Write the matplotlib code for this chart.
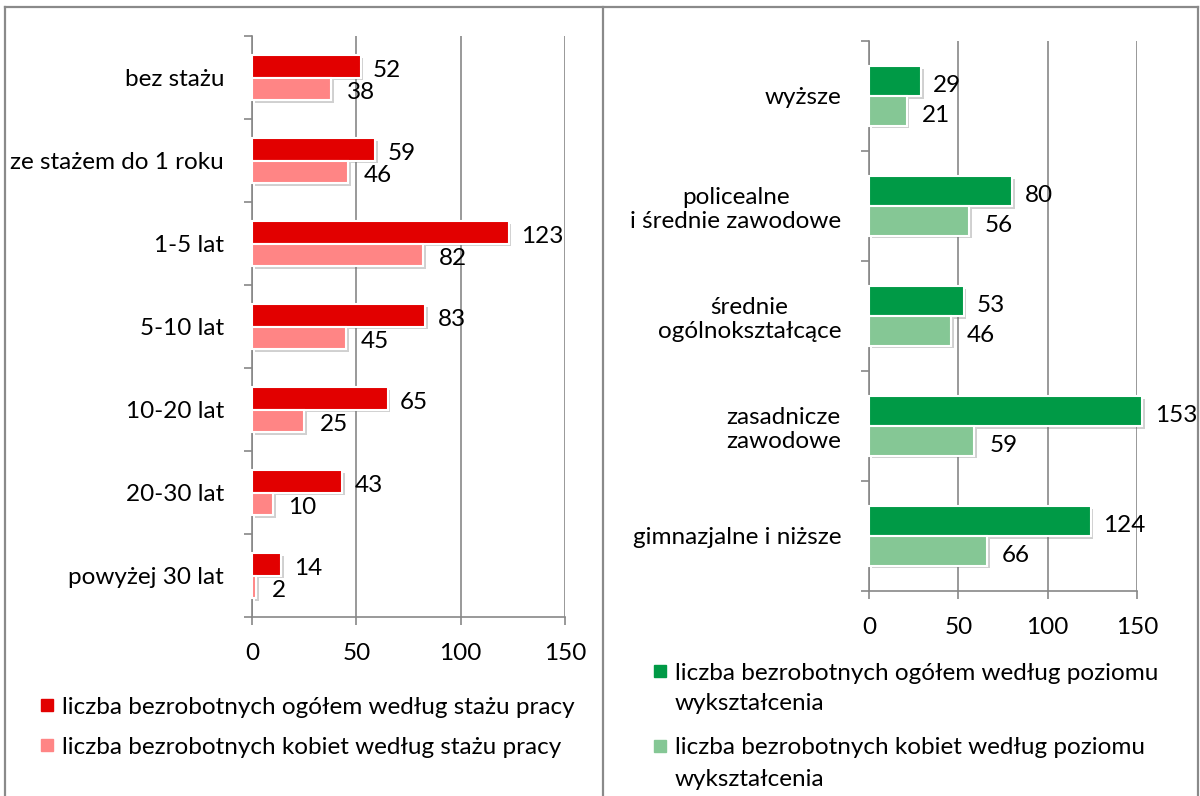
import numpy as np
import matplotlib
matplotlib.use("Agg")
import matplotlib.pyplot as plt
from matplotlib.patches import Rectangle
from matplotlib.lines import Line2D
import matplotlib.patheffects as pe

plt.rcParams["font.family"] = ["Lato", "DejaVu Sans"]

# ── data ─────────────────────────────────────────────────────────────────────
staz_cats = ["bez stażu", "ze stażem do 1 roku", "1-5 lat", "5-10 lat",
             "10-20 lat", "20-30 lat", "powyżej 30 lat"]
staz_ogolem = [52, 59, 123, 83, 65, 43, 14]
staz_kobiety = [38, 46, 82, 45, 25, 10, 2]

wyk_cats = ["wyższe", "policealne\ni średnie zawodowe", "średnie\nogólnokształcące",
            "zasadnicze\nzawodowe", "gimnazjalne i niższe"]
wyk_ogolem = [29, 80, 53, 153, 124]
wyk_kobiety = [21, 56, 46, 59, 66]

x_ticks = [0, 50, 100, 150]

staz_labels = ["liczba bezrobotnych ogółem według stażu pracy",
               "liczba bezrobotnych kobiet według stażu pracy"]
wyk_labels = ["liczba bezrobotnych ogółem według poziomu\nwykształcenia",
              "liczba bezrobotnych kobiet według poziomu\nwykształcenia"]

RED, PINK = "#E20000", "#FF8585"
GREEN, LGREEN = "#009A46", "#85C795"
GRID = "#878787"
FS = 17.5
W, H = 1200, 796


def panel(ax, cats, top_vals, bot_vals, c_top, c_bot):
    n = len(cats)
    y = np.arange(n)
    h = 0.27
    shadow = [pe.SimplePatchShadow(offset=(2, -2), shadow_rgbFace="#666666", alpha=0.3),
              pe.Normal()]
    b1 = ax.barh(y - h / 2, top_vals, height=h, color=c_top, edgecolor="white",
                 linewidth=1.5, zorder=3, clip_on=False)
    b2 = ax.barh(y + h / 2, bot_vals, height=h, color=c_bot, edgecolor="white",
                 linewidth=1.5, zorder=3, clip_on=False)
    for bars in (b1, b2):
        for p in bars:
            p.set_path_effects(shadow)
    for yi, v in zip(y - h / 2, top_vals):
        ax.annotate(str(v), (v, yi), xytext=(9, -3), textcoords="offset points",
                    ha="left", va="center", fontsize=FS, zorder=4, annotation_clip=False)
    for yi, v in zip(y + h / 2, bot_vals):
        ax.annotate(str(v), (v, yi), xytext=(11, -3), textcoords="offset points",
                    ha="left", va="center", fontsize=FS, zorder=4, annotation_clip=False)

    ax.set_xlim(0, 150)
    ax.set_ylim(n - 0.5, -0.5)
    ax.set_xticks(x_ticks)
    ax.set_yticks(y)
    ax.set_yticklabels(cats, fontsize=FS, multialignment="center")
    ax.set_yticks(np.arange(n + 1) - 0.5, minor=True)
    ax.tick_params(axis="y", which="major", length=0, pad=20)
    ax.tick_params(axis="y", which="minor", length=6, width=1.2, color=GRID)
    ax.tick_params(axis="x", length=6, width=1.2, color=GRID, pad=13, labelsize=FS)
    ax.grid(axis="x", color=GRID, lw=1.2, zorder=0)
    ax.set_axisbelow(True)
    for s in ("top", "right"):
        ax.spines[s].set_visible(False)
    for s in ("left", "bottom"):
        ax.spines[s].set_color(GRID)
        ax.spines[s].set_linewidth(1.2)


def legend(fig, colors, labels, x, y0, entry_gap, line_gap):
    # hand-drawn legend: square aligned with the first text line
    y = y0
    for c, lab in zip(colors, labels):
        fig.add_artist(Rectangle((x / W, 1 - (y + 6) / H), 12 / W, 12 / H,
                                 transform=fig.transFigure, color=c))
        for k, line in enumerate(lab.split("\n")):
            fig.text((x + 21) / W, 1 - (y + 2 + k * line_gap) / H, line,
                     fontsize=FS, ha="left", va="center")
        y += entry_gap + (len(lab.split("\n")) - 1) * line_gap


fig = plt.figure(figsize=(12, 7.96), dpi=100)

ax1 = fig.add_axes([252 / W, 1 - 617 / H, (565 - 252) / W, (617 - 36) / H])
panel(ax1, staz_cats, staz_ogolem, staz_kobiety, RED, PINK)

ax2 = fig.add_axes([869 / W, 1 - 591 / H, (1137 - 869) / W, (591 - 41) / H])
panel(ax2, wyk_cats, wyk_ogolem, wyk_kobiety, GREEN, LGREEN)

legend(fig, [RED, PINK], staz_labels, 41, 705, 40, 31)
legend(fig, [GREEN, LGREEN], wyk_labels, 654, 671, 44, 31)

# panel borders
for xs, ys in [((5, 1198), (7, 7)), ((5, 5), (7, 796)), ((603, 603), (7, 796)),
               ((1198, 1198), (7, 796))]:
    fig.add_artist(Line2D([x / W for x in xs], [1 - y / H for y in ys],
                          color="#8a8a8a", lw=1.6))

fig.savefig("out.png", dpi=100)
